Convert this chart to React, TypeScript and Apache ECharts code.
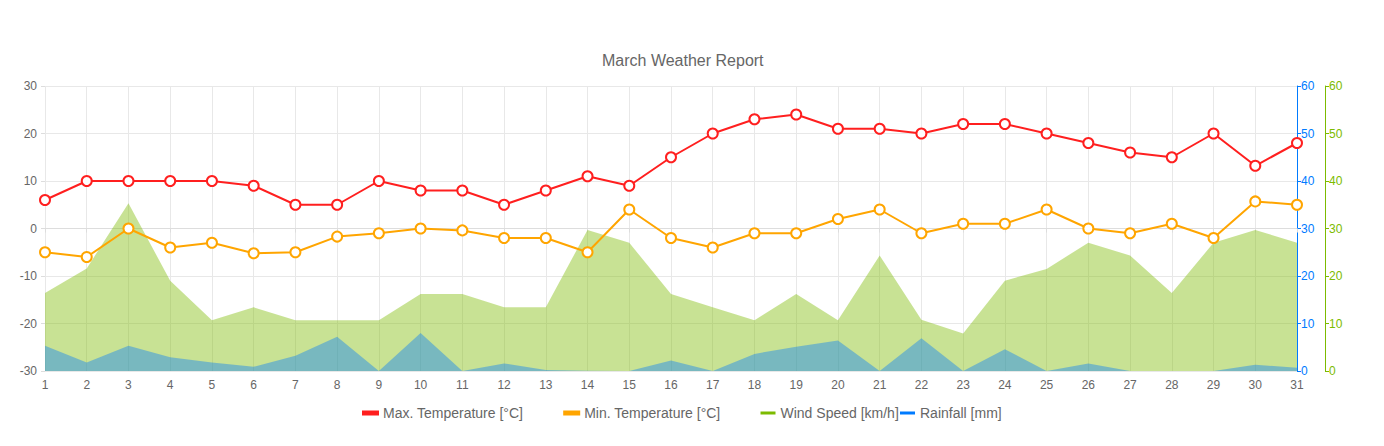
import React, { useEffect, useRef } from "react";
import * as echarts from "echarts";

const days = Array.from({ length: 31 }, (_, i) => String(i + 1));
const maxTemp = [6, 10, 10, 10, 10, 9, 5, 5, 10, 8, 8, 5, 8, 11, 9, 15, 20, 23, 24, 21, 21, 20, 22, 22, 20, 18, 16, 15, 20, 13.2, 18];
const minTemp = [-5, -6, 0, -4, -3, -5.2, -5, -1.7, -1, 0, -0.4, -2, -2, -5, 4, -2, -4, -1, -1, 2, 4, -1, 1, 1, 4, 0, -1, 1, -2, 5.7, 5];
const windSpeed = [16.4, 21.6, 35.3, 19, 10.7, 13.4, 10.7, 10.7, 10.7, 16.2, 16.2, 13.4, 13.4, 29.7, 27, 16.2, 13.4, 10.7, 16.2, 10.7, 24.3, 10.8, 7.9, 19, 21.5, 27, 24.3, 16.4, 27, 29.7, 27];
const rainfall = [5.3, 1.8, 5.3, 2.9, 1.8, 0.9, 3.2, 7.2, 0, 8, 0, 1.6, 0.2, 0.05, 0, 2.2, 0, 3.6, 5.1, 6.4, 0, 6.9, 0, 4.6, 0, 1.6, 0, 0, 0, 1.3, 0.7];
const tempTicks = { min: -30, max: 30, interval: 10 };
const rightTicks = { min: 0, max: 60, interval: 10 };

const RED = "#ff1f1f";
const ORANGE = "#ffa500";
const GREEN = "#7cbb00";
const BLUE = "#007bff";
const TEXT = "#666666";
const FONT = "Liberation Sans, Arial, sans-serif";

export default function App() {
  const ref = useRef<HTMLDivElement>(null);
  useEffect(() => {
    if (!ref.current) return;
    const chart = echarts.init(ref.current, undefined, { renderer: "svg" });
    chart.setOption({
      animation: false,
      textStyle: { fontFamily: FONT },
      title: {
        text: "March Weather Report",
        left: 597,
        top: 47,
        textStyle: { color: TEXT, fontSize: 16, fontWeight: "normal", fontFamily: FONT },
      },
      legend: [
        {
          left: 357,
          top: 401,
          itemGap: 40,
          itemWidth: 15,
          itemHeight: 3,
          icon: "rect",
          textStyle: { color: TEXT, fontSize: 14, fontFamily: FONT },
          data: [
            { name: "Max. Temperature [°C]", itemStyle: { color: RED } },
            { name: "Min. Temperature [°C]", itemStyle: { color: ORANGE } },
            { name: "Wind Speed [km/h]", itemStyle: { color: GREEN } },
          ],
        },
        {
          left: 895,
          top: 401,
          itemWidth: 15,
          itemHeight: 3,
          icon: "rect",
          textStyle: { color: TEXT, fontSize: 14, fontFamily: FONT },
          data: [{ name: "Rainfall [mm]", itemStyle: { color: BLUE } }],
        },
      ],
      grid: { left: 45, right: 87, top: 86, bottom: 75, containLabel: false },
      xAxis: {
        type: "category",
        data: days,
        boundaryGap: false,
        axisLine: { show: true, lineStyle: { color: "#dddddd" } },
        axisTick: { show: true, length: 4, lineStyle: { color: "#dddddd" } },
        axisLabel: { color: TEXT, fontSize: 12, margin: 8, fontFamily: FONT },
        splitLine: { show: true, lineStyle: { color: "#e8e8e8" } },
      },
      yAxis: [
        {
          type: "value",
          ...tempTicks,
          position: "left",
          axisLine: { show: false },
          axisTick: { show: true, length: 4, lineStyle: { color: "#dddddd" } },
          axisLabel: { color: TEXT, fontSize: 12, margin: 8, fontFamily: FONT },
          splitLine: { show: true, lineStyle: { color: "#e8e8e8" } },
        },
        {
          type: "value",
          ...rightTicks,
          position: "right",
          offset: 0,
          axisLine: { show: true, lineStyle: { color: BLUE, width: 1 } },
          axisTick: { show: true, inside: false, length: 4, lineStyle: { color: BLUE } },
          axisLabel: { color: BLUE, fontSize: 12, margin: 4, fontFamily: FONT },
          splitLine: { show: false },
        },
        {
          type: "value",
          ...rightTicks,
          position: "right",
          offset: 28,
          axisLine: { show: true, lineStyle: { color: GREEN, width: 1 } },
          axisTick: { show: true, inside: false, length: 4, lineStyle: { color: GREEN } },
          axisLabel: { color: GREEN, fontSize: 12, margin: 4, fontFamily: FONT },
          splitLine: { show: false },
        },
      ],
      series: [
        {
          name: "Wind Speed [km/h]",
          type: "line",
          yAxisIndex: 2,
          data: windSpeed,
          symbol: "none",
          lineStyle: { width: 0, color: GREEN },
          itemStyle: { color: GREEN },
          areaStyle: { color: "rgba(124,187,0,0.42)", opacity: 1 },
          z: 1,
        },
        {
          name: "Rainfall [mm]",
          type: "line",
          yAxisIndex: 1,
          data: rainfall,
          symbol: "none",
          lineStyle: { width: 0, color: BLUE },
          itemStyle: { color: BLUE },
          areaStyle: { color: "rgba(0,123,255,0.4)", opacity: 1 },
          z: 2,
        },
        {
          name: "Min. Temperature [°C]",
          type: "line",
          yAxisIndex: 0,
          data: minTemp,
          symbol: "circle",
          symbolSize: 10,
          showAllSymbol: true,
          lineStyle: { width: 2, color: ORANGE },
          itemStyle: { color: "#ffffff", borderColor: ORANGE, borderWidth: 2 },
          z: 3,
        },
        {
          name: "Max. Temperature [°C]",
          type: "line",
          yAxisIndex: 0,
          data: maxTemp,
          symbol: "circle",
          symbolSize: 10,
          showAllSymbol: true,
          lineStyle: { width: 2, color: RED },
          itemStyle: { color: "#ffffff", borderColor: RED, borderWidth: 2 },
          z: 4,
        },
      ],
    });
    return () => chart.dispose();
  }, []);
  return (
    <div
      ref={ref}
      style={{ position: "fixed", left: 0, top: 0, width: 1384, height: 446, background: "#ffffff" }}
    />
  );
}
